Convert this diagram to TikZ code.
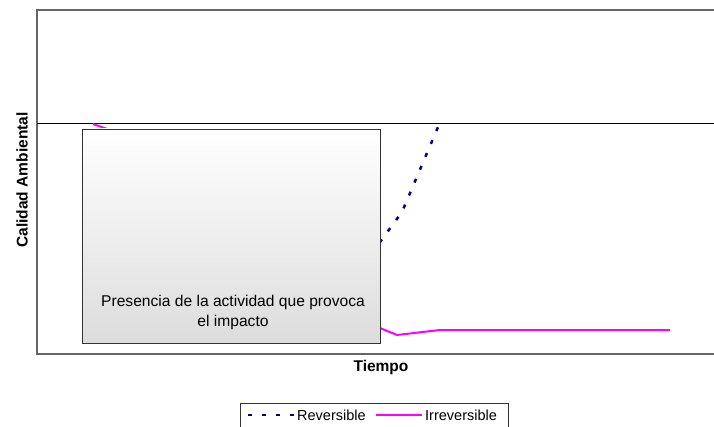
\documentclass[tikz,border=0pt]{standalone}
\usepackage{fontspec}
\setmainfont{Liberation Sans}
\definecolor{revblue}{HTML}{000080}
\definecolor{irrmag}{HTML}{FF00FF}
\begin{document}
\begin{tikzpicture}[x=1pt, y=-1pt,
		lbl/.style={font=\fontsize{14.5}{17}\selectfont},
		boxlbl/.style={font=\fontsize{15.6}{18}\selectfont},
		axlbl/.style={font=\fontsize{15.5}{18}\selectfont\bfseries},
		reversible/.style={revblue, line width=2.5pt, dash pattern=on 4pt off 10pt},
		irreversible/.style={irrmag, line width=2pt}]
		\useasboundingbox (0, 0) rectangle (714, 427);

		\draw[gray!80!black, line width=1.2pt]	(714, 10) to (37, 10) to (37, 354) to (714, 354);
		\draw[black, line width=1pt]	(37, 124) to (714, 124);

		\draw[irreversible]	(93, 124) to (150, 144) to (380, 328) to (397, 335) to (440, 330) to (670, 330);
		\draw[reversible]	(300, 300) to (380, 242) to (402, 212) to (438, 127);

		\shade[top color=white, bottom color=gray!27, draw=black!80, line width=0.8pt] (82, 129) rectangle (380, 343);
		\node[boxlbl, align=center, anchor=base] (actividad) at (233, 326) {Presencia de la actividad que provoca\\[2pt]el impacto};

		\node[axlbl, rotate=90] (calidad) at (22, 180) {Calidad Ambiental};
		\node[axlbl] (tiempo) at (381, 367) {Tiempo};

		\draw[black!80, line width=0.8pt]	(240, 440) to (240, 403) to (508, 403) to (508, 440);
		\draw[reversible]	(248, 415) to (295, 415);
		\node[lbl, anchor=base west, inner sep=0pt] (rev) at (297, 420.5) {Reversible};
		\draw[irreversible]	(376, 415) to (422, 415);
		\node[lbl, anchor=base west, inner sep=0pt] (irr) at (425, 420.5) {Irreversible};
\end{tikzpicture}
\end{document}
